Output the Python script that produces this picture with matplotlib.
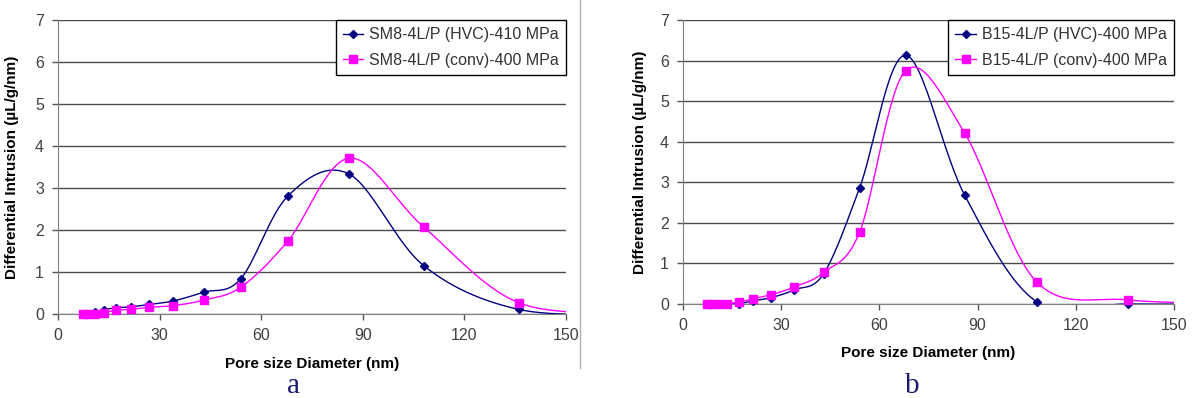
import numpy as np
import matplotlib
matplotlib.use('Agg')
import matplotlib.pyplot as plt
from matplotlib.lines import Line2D

plt.rcParams['font.family'] = ['Liberation Sans', 'DejaVu Sans']

# pore diameters (nm) - last point lies past the axis limit
diam = [7.3, 8.6, 10.8, 13.5, 17.2, 21.5, 27, 34, 43, 54, 68, 86, 108, 136, 171]

# chart a
a_hvc = [0, 0, 0.05, 0.1, 0.15, 0.17, 0.23, 0.31, 0.52, 0.84, 2.82, 3.33, 1.15, 0.11, 0.0]
a_conv = [0, 0, 0.01, 0.03, 0.09, 0.11, 0.16, 0.2, 0.33, 0.64, 1.75, 3.71, 2.07, 0.27, 0.03]
a_labels = ['SM8-4L/P (HVC)-410 MPa', 'SM8-4L/P (conv)-400 MPa']

# chart b
b_hvc = [0, 0, 0, 0, 0.01, 0.08, 0.16, 0.35, 0.75, 2.87, 6.13, 2.69, 0.06, 0.0, 0.0]
b_conv = [0, 0, 0, 0.01, 0.05, 0.13, 0.23, 0.42, 0.78, 1.78, 5.75, 4.22, 0.55, 0.1, 0.02]
b_labels = ['B15-4L/P (HVC)-400 MPa', 'B15-4L/P (conv)-400 MPa']

xticks = [0, 30, 60, 90, 120, 150]
yticks = [0, 1, 2, 3, 4, 5, 6, 7]

NAVY = '#000080'
MAG = '#ff00ff'


def smooth(x, y, n=30):
    # excel-like smoothed line (catmull-rom bezier)
    p = np.column_stack([x, y]).astype(float)
    pad = np.vstack([p[0], p, p[-1]])
    t = np.linspace(0, 1, n)[1:, None]
    out = [p[:1]]
    for i in range(len(p) - 1):
        p0, p1, p2, p3 = pad[i], pad[i + 1], pad[i + 2], pad[i + 3]
        c1 = p1 + (p2 - p0) / 6
        c2 = p2 - (p3 - p1) / 6
        seg = (1 - t) ** 3 * p1 + 3 * (1 - t) ** 2 * t * c1 + 3 * (1 - t) * t ** 2 * c2 + t ** 3 * p2
        out.append(seg)
    s = np.vstack(out)
    return s[:, 0], s[:, 1]


def draw(ax, hvc, conv, labels, ylab_x):
    x = np.array(diam)
    keep = x <= 150
    handles = []
    for y, col, mk, ms in [(hvc, NAVY, 'D', 4), (conv, MAG, 's', 5.5)]:
        sx, sy = smooth(x, y)
        ln, = ax.plot(sx, sy, color=col, lw=1, zorder=3)
        mm, = ax.plot(x[keep], np.array(y)[keep], ls='none', marker=mk, ms=ms,
                      color=col, mec=col, clip_on=False, zorder=4)
        handles.append((ln, mm))
    ax.set_xlim(0, 150)
    ax.set_ylim(0, 7)
    ax.set_xticks(xticks)
    ax.set_yticks(yticks)
    ax.grid(axis='y', color='#4a4a4a', lw=1)
    ax.set_axisbelow(True)
    for s in ['top', 'right']:
        ax.spines[s].set_visible(False)
    for s in ['left', 'bottom']:
        ax.spines[s].set_color('#808080')
    ax.tick_params(direction='out', length=4, width=1, color='#555555',
                   labelcolor='#404040', labelsize=11.5, pad=6)
    ax.set_xlabel('Pore size Diameter (nm)', fontsize=11, fontweight='bold')
    ax.set_ylabel('Differential Intrusion (\u00b5L/g/nm)', fontsize=11, fontweight='bold')
    ax.yaxis.set_label_coords(ylab_x, 0.5)
    ax.xaxis.set_label_coords(0.5, -0.147)
    leg = ax.legend(handles, labels, loc='upper right', bbox_to_anchor=(1.0, 1.0),
                    borderaxespad=0, fancybox=False, framealpha=1, edgecolor='black',
                    fontsize=11.5, handlelength=1.3, handletextpad=0.35,
                    labelspacing=0.65, borderpad=0.45)
    leg.get_frame().set_linewidth(1)
    for t in leg.get_texts():
        t.set_color('#333333')


fig = plt.figure(figsize=(11.94, 3.98), dpi=100)
W, H = 1194, 398
ax1 = fig.add_axes([58 / W, 1 - 314 / H, (566 - 58) / W, (314 - 20) / H])
ax2 = fig.add_axes([683 / W, 1 - 304 / H, (1174 - 683) / W, (304 - 20) / H])

draw(ax1, a_hvc, a_conv, a_labels, -0.077)
draw(ax2, b_hvc, b_conv, b_labels, -0.073)

# chart area border of the left chart
fig.add_artist(Line2D([580 / W, 580 / W], [1, 1 - 368 / H], transform=fig.transFigure,
                      color='#b0b0b0', lw=1))

fig.text(294 / W, 1 - 386 / H, 'a', fontsize=21, family='Liberation Serif',
         color='#1a1a6e', ha='center', va='center')
fig.text(912 / W, 1 - 386 / H, 'b', fontsize=21, family='Liberation Serif',
         color='#1a1a6e', ha='center', va='center')

fig.savefig('out.png', dpi=100)
